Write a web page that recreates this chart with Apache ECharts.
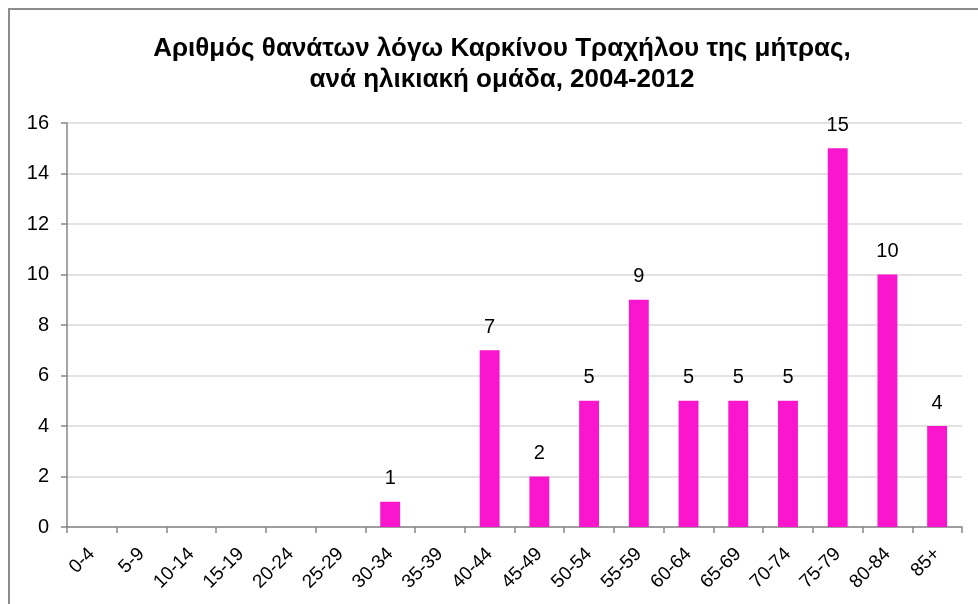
<!DOCTYPE html>
<html>
<head>
<meta charset="utf-8">
<script src="https://cdn.jsdelivr.net/npm/echarts@6/dist/echarts.min.js"></script>
<style>
  html, body { margin: 0; padding: 0; background: #fff; }
  #frame { position: absolute; left: 8px; top: 8px; width: 1100px; height: 700px; border: 2px solid #8c8c8c; box-sizing: border-box; }
  #main { position: absolute; left: 0; top: 0; width: 978px; height: 604px; }
</style>
</head>
<body>
<div id="frame"></div>
<div id="main"></div>
<script>
// ηλικιακές ομάδες και θάνατοι
var ageGroups = ['0-4', '5-9', '10-14', '15-19', '20-24', '25-29', '30-34', '35-39', '40-44',
                 '45-49', '50-54', '55-59', '60-64', '65-69', '70-74', '75-79', '80-84', '85+'];
var deaths = [null, null, null, null, null, null, 1, null, 7, 2, 5, 9, 5, 5, 5, 15, 10, 4];
var yTicks = { min: 0, max: 16, interval: 2 };

var font = 'Liberation Sans, Arial, sans-serif';
var myChart = echarts.init(document.getElementById('main'));
myChart.setOption({
    animation: false,
    title: {
        text: 'Αριθμός θανάτων λόγω Καρκίνου Τραχήλου της μήτρας,\nανά ηλικιακή ομάδα, 2004-2012',
        left: 497,
        top: 28,
        textAlign: 'center',
        textStyle: { fontFamily: font, fontSize: 26, fontWeight: 'bold', color: '#000', lineHeight: 31 }
    },
    grid: { left: 67, right: 16, top: 123, bottom: 77, containLabel: false },
    xAxis: {
        type: 'category',
        data: ageGroups,
        axisLine: { lineStyle: { color: '#868686', width: 1.5 } },
        axisTick: { show: true, alignWithLabel: false, length: 6, lineStyle: { color: '#868686', width: 1.5 } },
        axisLabel: { rotate: 45, interval: 0, fontFamily: font, fontSize: 19, color: '#000', margin: 24 }
    },
    yAxis: {
        type: 'value',
        min: yTicks.min,
        max: yTicks.max,
        interval: yTicks.interval,
        axisLine: { show: true, lineStyle: { color: '#868686', width: 1.5 } },
        axisTick: { show: true, length: 6, lineStyle: { color: '#868686', width: 1.5 } },
        axisLabel: { fontFamily: font, fontSize: 20, color: '#000', margin: 18 },
        splitLine: { lineStyle: { color: '#d9d9d9', width: 1.5 } }
    },
    series: [{
        type: 'bar',
        data: deaths,
        barWidth: '40%',
        itemStyle: { color: '#f916cd' },
        label: { show: true, position: 'top', distance: 13, fontFamily: font, fontSize: 20, color: '#000' }
    }]
});
</script>
</body>
</html>
